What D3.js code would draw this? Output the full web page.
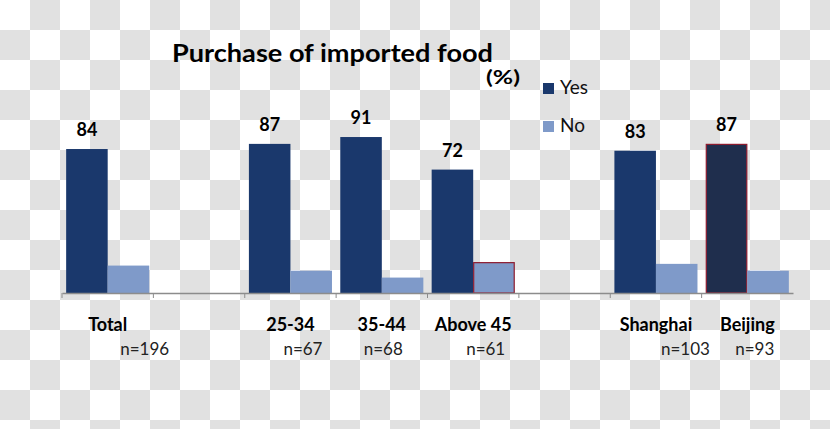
<!DOCTYPE html>
<html><head><meta charset="utf-8">
<script src="https://cdn.jsdelivr.net/npm/d3@7"></script>
<style>html,body{margin:0;padding:0;background:#fff}svg{display:block}</style>
</head><body>
<script>
const categories = ["Total", "", "25-34", "35-44", "Above 45", "", "Shanghai", "Beijing"];
const sampleLabels = ["n=196", "", "n=67", "n=68", "n=61", "", "n=103", "n=93"];
const yesValues = [84, null, 87, 91, 72, null, 83, 87];
const noValues  = [16, null, 13, 9, 18, null, 17, 13];
const seriesNames = ["Yes", "No"];
const titleText = "Purchase of imported food";
const unitText = "(%)";

// layout config
const W = 830, H = 429;
const nLabelDx = [37, 0, 12.5, 1.5, 12.5, 0, 29.5, 7.5];
const colors = {Yes: "#1a386c", No: "#7f9ac9"};
const highlight = {"Beijing|Yes": {fill: "#1f2e4d", stroke: "#8e1b2e"}, "Above 45|No": {fill: "#7f9ac9", stroke: "#8e1b2e"}};
const font = "Lato, 'Open Sans', sans-serif";

const svg = d3.select("body").append("svg").attr("width", W).attr("height", H);
const defs = svg.append("defs");
const pat = defs.append("pattern").attr("id", "chk").attr("patternUnits", "userSpaceOnUse")
  .attr("width", 60).attr("height", 60);
pat.append("rect").attr("width", 60).attr("height", 60).attr("fill", "#ffffff");
pat.append("rect").attr("x", 30).attr("y", 0).attr("width", 30).attr("height", 30).attr("fill", "#e1e1e1");
pat.append("rect").attr("x", 0).attr("y", 30).attr("width", 30).attr("height", 30).attr("fill", "#e1e1e1");
svg.append("rect").attr("width", W).attr("height", H).attr("fill", "url(#chk)");

const idx = d3.range(categories.length);
const x = d3.scaleBand().domain(idx).range([62, 793]).paddingInner(0).paddingOuter(0);
const xs = d3.scaleBand().domain(seriesNames).range([0, x.bandwidth()]).paddingInner(0).paddingOuter(0.1);
const y = d3.scaleLinear().domain([0, 100]).range([293, 121.6]);

const rows = [];
idx.forEach(i => {
  if (yesValues[i] != null) rows.push({i, s: "Yes", v: yesValues[i]});
  if (noValues[i] != null) rows.push({i, s: "No", v: noValues[i]});
});
const hl = d => highlight[categories[d.i] + "|" + d.s];

svg.append("g").selectAll("rect").data(rows).join("rect")
  .attr("x", d => x(d.i) + xs(d.s) + (hl(d) ? 0.5 : 0))
  .attr("y", d => y(d.v) + (hl(d) ? 0.5 : 0))
  .attr("width", d => xs.bandwidth() - (hl(d) ? 1 : 0))
  .attr("height", d => y(0) - y(d.v) - (hl(d) ? 0.5 : 0))
  .attr("fill", d => hl(d) ? hl(d).fill : colors[d.s])
  .attr("stroke", d => hl(d) ? hl(d).stroke : "none")
  .attr("stroke-width", 1.2);

// axis
const axis = d3.axisBottom(x).tickValues([]).tickSize(0).tickSizeOuter(0);
const gx = svg.append("g").attr("transform", `translate(0,${y(0)})`).call(axis);
gx.select(".domain").attr("stroke", "#8c8c8c").attr("stroke-width", 1.3);
const bounds = idx.map(i => x(i));
gx.selectAll("line.bd").data(bounds).join("line").attr("class", "bd")
  .attr("x1", d => d).attr("x2", d => d).attr("y1", 0).attr("y2", 5)
  .attr("stroke", "#8c8c8c").attr("stroke-width", 1);

// value labels
svg.append("g").selectAll("text").data(rows.filter(d => d.s === "Yes")).join("text")
  .attr("x", d => x(d.i) + xs("Yes") + xs.bandwidth() / 2)
  .attr("y", d => y(d.v) - 13)
  .attr("text-anchor", "middle").attr("font-family", font).attr("font-weight", "bold")
  .attr("font-size", 18).attr("fill", "#000").text(d => d.v);

// category labels
svg.append("g").selectAll("text").data(idx.filter(i => categories[i])).join("text")
  .attr("x", i => x(i) + x.bandwidth() / 2).attr("y", 331)
  .attr("text-anchor", "middle").attr("font-family", font).attr("font-weight", "bold")
  .attr("font-size", 18).attr("fill", "#000").text(i => categories[i]);

svg.append("g").selectAll("text").data(idx.filter(i => sampleLabels[i])).join("text")
  .attr("x", i => x(i) + x.bandwidth() / 2 + nLabelDx[i]).attr("y", 355)
  .attr("text-anchor", "middle").attr("font-family", font)
  .attr("font-size", 17).attr("fill", "#222").text(i => sampleLabels[i]);

// title
svg.append("text").attr("x", 172).attr("y", 62).attr("font-family", font).attr("font-weight", "bold")
  .attr("font-size", 24.5).attr("fill", "#000").attr("textLength", 321).attr("lengthAdjust", "spacingAndGlyphs").text(titleText);
svg.append("text").attr("x", 486).attr("y", 84).attr("font-family", font).attr("font-weight", "bold")
  .attr("font-size", 19).attr("fill", "#000").attr("textLength", 34).attr("lengthAdjust", "spacingAndGlyphs").text(unitText);

// legend
const lg = svg.append("g").selectAll("g").data(seriesNames).join("g")
  .attr("transform", (d, k) => `translate(543,${83 + k * 38})`);
lg.append("rect").attr("width", 11).attr("height", 11).attr("fill", d => colors[d]);
lg.append("text").attr("x", 17).attr("y", 11).attr("font-family", font).attr("font-size", 19)
  .attr("fill", "#111").text(d => d);
</script>
</body></html>
